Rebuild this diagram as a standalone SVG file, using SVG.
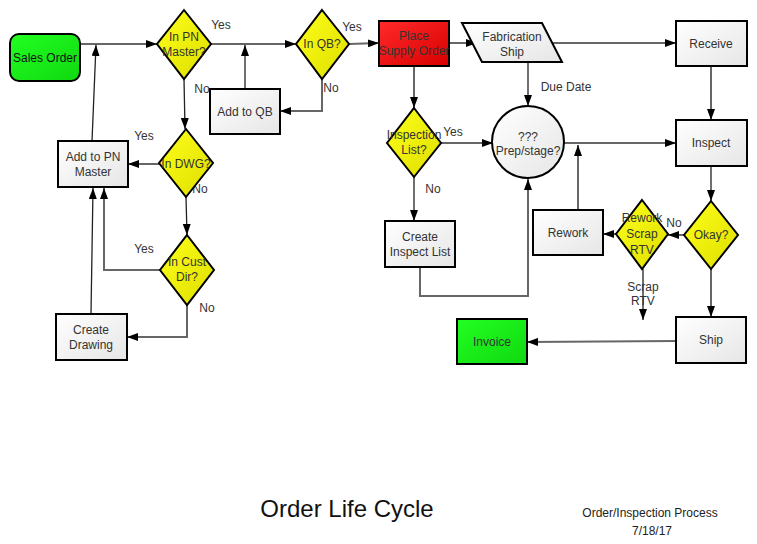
<svg xmlns="http://www.w3.org/2000/svg" width="757" height="544" viewBox="0 0 757 544">
<defs>
<linearGradient id="gw" x1="0" y1="0" x2="1" y2="1"><stop offset="0" stop-color="#ffffff"/><stop offset="1" stop-color="#e6e6e6"/></linearGradient>
<linearGradient id="gy" x1="0" y1="0" x2="1" y2="1"><stop offset="0" stop-color="#ffff1a"/><stop offset="1" stop-color="#dede00"/></linearGradient>
<linearGradient id="gr" x1="0" y1="0" x2="1" y2="1"><stop offset="0" stop-color="#ff2a2a"/><stop offset="1" stop-color="#d80000"/></linearGradient>
<linearGradient id="gg" x1="0" y1="0" x2="1" y2="1"><stop offset="0" stop-color="#22ff22"/><stop offset="1" stop-color="#10d810"/></linearGradient>
<marker id="ar" markerUnits="userSpaceOnUse" markerWidth="11" markerHeight="8" refX="11" refY="4" orient="auto"><path d="M0,0 L11,4 L0,8 z" fill="#000"/></marker>
<style>
.n{stroke:#000;stroke-width:2}
.w{fill:url(#gw)}
.y{fill:url(#gy)}
.t{font-family:"Liberation Sans",Arial,sans-serif;font-size:12px;fill:#333;text-anchor:middle}
.l{font-family:"Liberation Sans",Arial,sans-serif;font-size:12px;fill:#333;text-anchor:middle}
.c{fill:none;stroke:#666;stroke-width:2;marker-end:url(#ar)}
.k{fill:none;stroke:#222;stroke-width:1.3;marker-end:url(#ar)}
</style>
</defs>
<rect width="757" height="544" fill="#fff"/>
<g id="connectors">
<path class="c" d="M80,44 L157,44"/>
<path class="k" d="M92,141 L96,45"/>
<path class="c" d="M211,44 L296,44"/>
<path class="k" d="M245,89 L245,45"/>
<path class="k" d="M184,79 L185,129"/>
<path class="c" d="M159,164 L128,164"/>
<path class="k" d="M186,197 L187,235"/>
<path class="c" d="M160,270 L104,270 L104,188"/>
<path class="c" d="M187,305 L187,337 L127,337"/>
<path class="k" d="M91,314 L93,188"/>
<path class="c" d="M322,79 L322,111 L280,111"/>
<path class="c" d="M349,44 L379,43"/>
<path class="c" d="M449,43 L477,43"/>
<path class="c" d="M414,66 L414,108"/>
<path class="c" d="M441,143 L493,143"/>
<path class="k" d="M414,177 L414,221"/>
<path class="c" d="M420,267 L420,296 L528,296 L528,179"/>
<path class="c" d="M548,43 L676,43"/>
<path class="k" d="M528,63 L528,106"/>
<path class="c" d="M564,143 L676,143"/>
<path class="c" d="M578,210 L578,145"/>
<path class="c" d="M711,66 L711,120"/>
<path class="k" d="M711,166 L711,201"/>
<path class="c" d="M684,235 L668,235"/>
<path class="c" d="M616,234 L603,234"/>
<path class="k" d="M643,269 L643,320"/>
<path class="c" d="M711,269 L711,317"/>
<path class="c" d="M676,341 L527,342"/>
<text class="l" x="221" y="29">Yes</text>
<text class="l" x="202" y="93">No</text>
<text class="l" x="144" y="140">Yes</text>
<text class="l" x="200" y="193">No</text>
<text class="l" x="144" y="253">Yes</text>
<text class="l" x="207" y="312">No</text>
<text class="l" x="352" y="31">Yes</text>
<text class="l" x="331" y="92">No</text>
<text class="l" x="453" y="136">Yes</text>
<text class="l" x="433" y="193">No</text>
<text class="l" x="566" y="91">Due Date</text>
<text class="l" x="674" y="227">No</text>
<text class="l" x="643" y="291">Scrap</text>
<text class="l" x="643" y="305">RTV</text>
</g>
<g id="sales-order"><rect class="n" x="10" y="34" width="70" height="47" rx="9" fill="url(#gg)"/><text class="t" x="45" y="62" style="fill:#111">Sales Order</text></g>
<g id="in-pn-master"><polygon class="n y" points="184,10 211,44 184,79 157,44"/><text class="t" x="184" y="41">In PN</text><text class="t" x="184" y="56">Master?</text></g>
<g id="in-qb"><polygon class="n y" points="322,10 349,44 322,79 296,44"/><text class="t" x="322" y="48">In QB?</text></g>
<g id="add-to-qb"><rect class="n w" x="210" y="89" width="70" height="45"/><text class="t" x="245" y="116">Add to QB</text></g>
<g id="in-dwg"><polygon class="n y" points="186,129 213,163 186,197 159,163"/><text class="t" x="186" y="168">In DWG?</text></g>
<g id="add-to-pn-master"><rect class="n w" x="58" y="141" width="70" height="46"/><text class="t" x="93" y="161">Add to PN</text><text class="t" x="93" y="176">Master</text></g>
<g id="in-cust-dir"><polygon class="n y" points="187,235 214,270 187,305 160,270"/><text class="t" x="187" y="266">In Cust</text><text class="t" x="187" y="281">Dir?</text></g>
<g id="create-drawing"><rect class="n w" x="56" y="314" width="71" height="46"/><text class="t" x="91" y="334">Create</text><text class="t" x="91" y="349">Drawing</text></g>
<g id="place-supply-order"><rect class="n" x="379" y="21" width="70" height="45" fill="url(#gr)"/><text class="t" x="414" y="40">Place</text><text class="t" x="414" y="55">Supply Order</text></g>
<g id="fabrication-ship"><polygon class="n w" points="462,23 542,23 562,62 482,62"/><text class="t" x="512" y="41">Fabrication</text><text class="t" x="512" y="56">Ship</text></g>
<g id="receive"><rect class="n w" x="676" y="21" width="71" height="45"/><text class="t" x="711" y="48">Receive</text></g>
<g id="inspection-list"><polygon class="n y" points="414,108 441,143 414,177 387,143"/><text class="t" x="414" y="139">Inspection</text><text class="t" x="414" y="154">List?</text></g>
<g id="prep-stage"><circle class="n w" cx="528" cy="142" r="36"/><text class="t" x="528" y="141">???</text><text class="t" x="528" y="155">Prep/stage?</text></g>
<g id="inspect"><rect class="n w" x="676" y="120" width="71" height="46"/><text class="t" x="711" y="147">Inspect</text></g>
<g id="create-inspect-list"><rect class="n w" x="385" y="221" width="70" height="46"/><text class="t" x="420" y="241">Create</text><text class="t" x="420" y="256">Inspect List</text></g>
<g id="okay"><polygon class="n y" points="711,201 738,235 711,269 684,235"/><text class="t" x="711" y="239">Okay?</text></g>
<g id="rework-scrap-rtv"><polygon class="n y" points="642,200 668,234 642,269 616,234"/><text class="t" x="642" y="222">Rework</text><text class="t" x="642" y="238">Scrap</text><text class="t" x="642" y="254">RTV</text></g>
<g id="rework"><rect class="n w" x="533" y="210" width="70" height="45"/><text class="t" x="568" y="237">Rework</text></g>
<g id="ship"><rect class="n w" x="676" y="317" width="70" height="46"/><text class="t" x="711" y="344">Ship</text></g>
<g id="invoice"><rect class="n" x="457" y="319" width="70" height="45" fill="url(#gg)"/><text class="t" x="492" y="346">Invoice</text></g>
<g id="titles">
<text x="347" y="517" style="font-family:'Liberation Sans',Arial,sans-serif;font-size:24px;fill:#111;text-anchor:middle">Order Life Cycle</text>
<text x="650" y="517" style="font-family:'Liberation Sans',Arial,sans-serif;font-size:12px;fill:#222;text-anchor:middle">Order/Inspection Process</text>
<text x="652" y="535" style="font-family:'Liberation Sans',Arial,sans-serif;font-size:12px;fill:#222;text-anchor:middle">7/18/17</text>
</g>
</svg>
